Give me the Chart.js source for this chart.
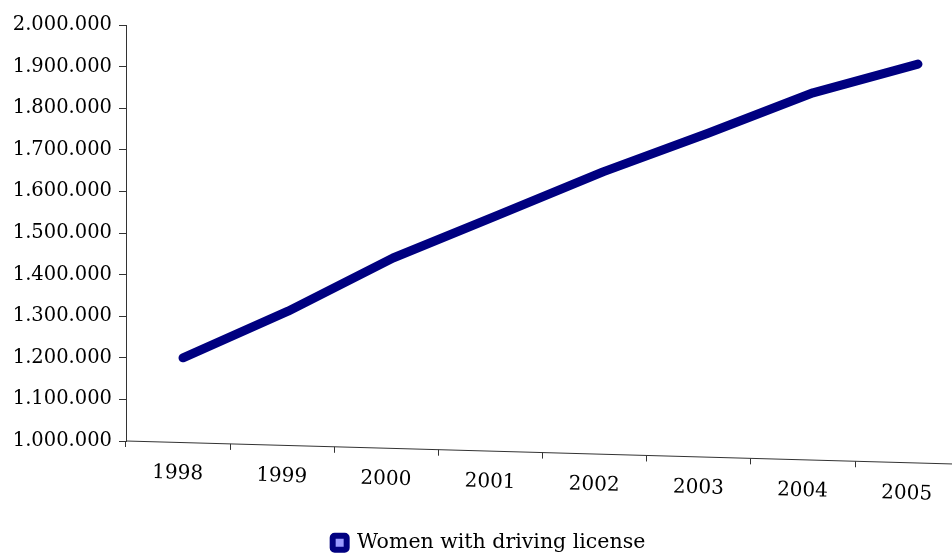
<!DOCTYPE html>
<html>
<head>
<meta charset="utf-8">
<script src="https://cdn.jsdelivr.net/npm/chart.js@4/dist/chart.umd.min.js"></script>
<style>
  html, body { margin: 0; padding: 0; background: #fff; overflow: hidden; }
  canvas { display: block; }
</style>
</head>
<body>
<canvas id="chart" width="952" height="563" style="width:952px;height:563px"></canvas>
<script>
// Women holding a driving license, per year
const years = [1998, 1999, 2000, 2001, 2002, 2003, 2004, 2005];
const womenWithLicense = [1200000, 1312000, 1440000, 1543000, 1647000, 1740000, 1837000, 1906000];
const seriesName = 'Women with driving license';
const yMin = 1000000;
const yMax = 2000000;
const yStep = 100000;

const serif = '"DejaVu Serif", "Liberation Serif", serif';
const navy = '#000080';

// thousands separated by dots: 1.200.000
const fmt = v => String(Math.round(v)).replace(/\B(?=(\d{3})+(?!\d))/g, '.');

// The category floor is drawn in perspective: it slopes down to the right,
// and its ticks/labels sit a little left of the plotted points.
const floorSlope = 0.0278;
const floorPlugin = {
  id: 'perspectiveFloor',
  afterLayout(chart) {
    // centre the legend under the plot rather than the whole canvas
    const lg = chart.legend;
    if (lg) { lg.left += 14; lg.right += 14; }
  },
  afterDraw(chart) {
    const { ctx, chartArea, scales } = chart;
    const xs = scales.x;
    const x0 = chartArea.left, y0 = chartArea.bottom;
    const floorY = px => y0 + (px - x0) * floorSlope;
    const depth = px => px - 5 - 0.008 * (px - x0);

    ctx.save();
    ctx.strokeStyle = '#333';
    ctx.lineWidth = 1;
    ctx.beginPath();
    ctx.moveTo(x0, y0);
    ctx.lineTo(chart.width, floorY(chart.width));
    ctx.stroke();

    // tick marks at the category boundaries
    ctx.beginPath();
    years.forEach(yr => {
      const bx = Math.round(depth(xs.getPixelForValue(yr - 0.5))) + 0.5;
      const by = floorY(bx);
      ctx.moveTo(bx, by);
      ctx.lineTo(bx, by + 6);
    });
    ctx.stroke();

    // category labels, tilted with the floor
    ctx.fillStyle = '#000';
    ctx.font = '20px ' + serif;
    ctx.textAlign = 'center';
    ctx.textBaseline = 'middle';
    const ang = Math.atan(floorSlope);
    years.forEach(yr => {
      const lx = depth(xs.getPixelForValue(yr));
      const ly = floorY(lx) + 31;
      ctx.save();
      ctx.translate(lx, ly);
      ctx.rotate(ang);
      ctx.fillText(String(yr), 0, 0);
      ctx.restore();
    });
    ctx.restore();
  }
};

new Chart(document.getElementById('chart'), {
  type: 'line',
  data: {
    datasets: [{
      label: seriesName,
      data: years.map((yr, i) => ({ x: yr, y: womenWithLicense[i] })),
      borderColor: navy,
      backgroundColor: '#9999ff',
      borderWidth: 9,
      borderCapStyle: 'round',
      borderJoinStyle: 'round',
      pointRadius: 0,
      pointHoverRadius: 0,
      tension: 0,
      fill: false
    }]
  },
  options: {
    responsive: false,
    animation: false,
    events: [],
    layout: { padding: { top: 25, left: 0, right: 2, bottom: 0 } },
    scales: {
      x: {
        type: 'linear',
        min: 1997.457,
        max: 2005.305,
        ticks: { display: false },
        grid: { display: false },
        border: { display: false },
        afterFit(s) { s.height = 81.5; }
      },
      y: {
        min: yMin,
        max: yMax,
        ticks: {
          stepSize: yStep,
          callback: v => fmt(v),
          color: '#000',
          font: { family: serif, size: 19.5 },
          padding: 7
        },
        grid: { drawOnChartArea: false, drawTicks: true, tickLength: 7, color: '#333' },
        border: { color: '#333', width: 1 },
        afterFit(s) { s.width = 126; }
      }
    },
    plugins: {
      legend: {
        position: 'bottom',
        labels: {
          color: '#000',
          font: { family: serif, size: 20.5 },
          boxWidth: 14,
          boxHeight: 14,
          padding: 10,
          useBorderRadius: true,
          borderRadius: 2,
          generateLabels(chart) {
            const ds = chart.data.datasets[0];
            return [{
              text: ds.label,
              fillStyle: '#9999ff',
              strokeStyle: navy,
              lineWidth: 6,
              borderRadius: 2,
              fontColor: '#000',
              datasetIndex: 0
            }];
          }
        }
      },
      tooltip: { enabled: false }
    }
  },
  plugins: [floorPlugin]
});
</script>
</body>
</html>
